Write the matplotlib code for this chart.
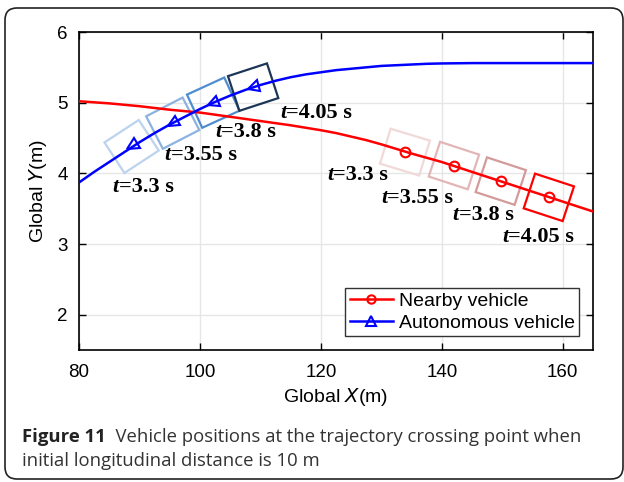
import numpy as np
import matplotlib
matplotlib.use("Agg")
import matplotlib.pyplot as plt
from matplotlib.lines import Line2D
from matplotlib.markers import MarkerStyle
from matplotlib.patches import Rectangle, FancyBboxPatch
from matplotlib.transforms import Affine2D, ScaledTranslation, IdentityTransform

#%% data
x_grid = [80, 82.5, 85, 87.5, 90, 92.5, 95, 97.5, 100, 102.5, 105, 107.5, 110, 112.5,
          115, 117.5, 120, 122.5, 125, 127.5, 130, 132.5, 135, 137.5, 140,
          145, 150, 155, 160, 165]
y_nearby = [5.02, 5.005, 4.99, 4.97, 4.95, 4.925, 4.90, 4.88, 4.86, 4.83, 4.80, 4.77,
            4.74, 4.71, 4.68, 4.645, 4.61, 4.57, 4.52, 4.47, 4.41, 4.345, 4.28, 4.22,
            4.16, 4.02, 3.88, 3.74, 3.60, 3.46]
y_auto = [3.87, 4.02, 4.16, 4.30, 4.44, 4.57, 4.69, 4.80, 4.91, 5.01, 5.10, 5.18,
          5.25, 5.31, 5.36, 5.40, 5.43, 5.46, 5.48, 5.50, 5.52, 5.53, 5.54, 5.55,
          5.555, 5.56, 5.56, 5.56, 5.56, 5.56]

times = ["3.3", "3.55", "3.8", "4.05"]
nearby_x = [133.9, 142.0, 149.75, 157.7]
nearby_y = [4.30, 4.11, 3.89, 3.66]
auto_x = [88.7, 95.5, 102.2, 108.8]
auto_y = [4.38, 4.71, 5.00, 5.22]

#%% styles
blue_box = ["#bcd3ee", "#8cb3e0", "#4f8dd0", "#1d3656"]
red_box = ["#f0d9d9", "#e2b6b6", "#d39a9a", "#ff0000"]
# label offsets (pixels) from the marker
auto_off = [(-19, -41), (-8, -32), (2, -29), (27, -26)]
near_off = [(-78, -23), (-73, -32), (-48, -34), (-47, -40)]
box_len, box_wid = 41, 36.5  # pixels

plt.rcParams['font.family'] = ['Liberation Sans', 'DejaVu Sans']

fig = plt.figure(figsize=(6.24, 4.82), dpi=100)
ax = fig.add_axes([79/624, 1 - 350/482, 514/624, 318/482])

ax.plot(x_grid, y_nearby, color='red', lw=1.8, zorder=3)
ax.plot(x_grid, y_auto, color='blue', lw=1.8, zorder=3)

ax.set_xlim(80, 165)
ax.set_ylim(1.5, 6)
ax.set_xticks([80, 100, 120, 140, 160])
ax.set_yticks([2, 3, 4, 5, 6])
ax.grid(True, color='#e6e6e6', lw=1)
ax.set_axisbelow(True)
ax.tick_params(direction='in', length=5, top=True, right=True, labelsize=13.5,
               width=1, color='black')
ax.tick_params(axis='x', pad=10)
ax.tick_params(axis='y', pad=8)
for s in ax.spines.values():
    s.set_linewidth(1.2)
ax.set_xlabel('Global $\\it{X}$(m)', fontsize=14, labelpad=4)
ax.set_ylabel('Global $\\it{Y}$(m)', fontsize=14, labelpad=6)


def heading(xs, ys, x0):
    # angle of the curve in pixel space
    p1 = ax.transData.transform((x0 - 0.5, np.interp(x0 - 0.5, xs, ys)))
    p2 = ax.transData.transform((x0 + 0.5, np.interp(x0 + 0.5, xs, ys)))
    return np.degrees(np.arctan2(p2[1] - p1[1], p2[0] - p1[0]))


def draw_vehicle(x, y, ang, col):
    tr = Affine2D().rotate_deg(ang) + ScaledTranslation(x, y, ax.transData)
    r = Rectangle((-box_len/2, -box_wid/2), box_len, box_wid, fill=False,
                  ec=col, lw=1.6, transform=tr, zorder=2)
    ax.add_patch(r)


def time_label(x, y, off, t):
    a = ax.annotate('t', (x, y), xytext=off, textcoords='offset pixels',
                    family='Liberation Serif', weight='bold', style='italic',
                    fontsize=16, ha='left', va='center', zorder=5)
    ax.annotate('=' + t + ' s', (1, 0), xycoords=a, xytext=(0, 0),
                textcoords='offset pixels', family='Liberation Serif',
                weight='bold', fontsize=16, ha='left', va='bottom', zorder=5)


for i in range(4):
    ang = heading(x_grid, y_auto, auto_x[i])
    draw_vehicle(auto_x[i], auto_y[i], ang, blue_box[i])
    m = MarkerStyle('^', transform=Affine2D().rotate_deg(ang + 90))
    ax.plot(auto_x[i], auto_y[i], marker=m, ms=8, mfc='none', mec='blue',
            mew=1.5, zorder=4)
    time_label(auto_x[i], auto_y[i], auto_off[i], times[i])

    ang = heading(x_grid, y_nearby, nearby_x[i])
    draw_vehicle(nearby_x[i], nearby_y[i], ang, red_box[i])
    ax.plot(nearby_x[i], nearby_y[i], marker='o', ms=7, mfc='none', mec='red',
            mew=1.5, zorder=4)
    time_label(nearby_x[i], nearby_y[i], near_off[i], times[i])

handles = [Line2D([], [], color='red', lw=1.8, marker='o', ms=6, mfc='none', mew=1.5),
           Line2D([], [], color='blue', lw=1.8, marker='^', ms=7, mfc='none', mew=1.5)]
leg = ax.legend(handles, ['Nearby vehicle', 'Autonomous vehicle'], loc='lower right',
                fontsize=14, fancybox=False, edgecolor='#333333', framealpha=1,
                borderaxespad=0.7, handlelength=2.2, handletextpad=0.3,
                borderpad=0.25, labelspacing=0.2)
leg.get_frame().set_linewidth(1.0)

# caption and frame
frame = FancyBboxPatch((5, 3), 618, 471, boxstyle='round,pad=0,rounding_size=12',
                       transform=IdentityTransform(), fill=False, ec='#222222', lw=1.2)
fig.patches.append(frame)

cap = fig.text(22/624, 1 - 437/482, 'Figure 11', family='Open Sans', weight='bold',
               fontsize=13.3, va='center', ha='left', color='#222222')
ax.annotate('  Vehicle positions at the trajectory crossing point when', (1, 0),
            xycoords=cap, family='Open Sans', fontsize=13.3, color='#333333',
            ha='left', va='bottom', annotation_clip=False)
fig.text(22/624, 1 - 461/482, 'initial longitudinal distance is 10 m', family='Open Sans',
         fontsize=13.3, va='center', ha='left', color='#333333')

fig.savefig('out.png', dpi=100)
